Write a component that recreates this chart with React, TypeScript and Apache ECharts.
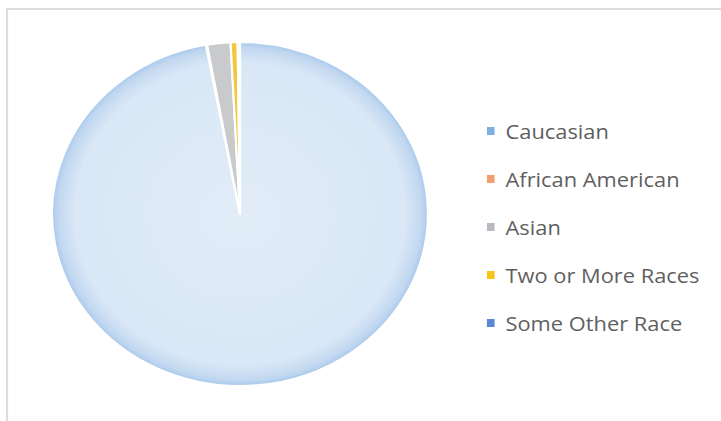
import React, { useEffect, useRef } from "react";
import * as echarts from "echarts";

const categories = ["Caucasian", "African American", "Asian", "Two or More Races", "Some Other Race"];
const shares = [97.1, 0.1, 2.0, 0.6, 0.2];
const legendColors = ["#7fb0e0", "#f0a070", "#b8babd", "#f5c51c", "#5b86d3"];

const SX = 1.093;
const W = 721 / SX;

export default function App() {
  const ref = useRef<HTMLDivElement>(null);
  useEffect(() => {
    if (!ref.current) return;
    const chart = echarts.init(ref.current, undefined, { renderer: "svg" });
    const sliceColors: any[] = [
      {
        type: "radial",
        x: 0.5,
        y: 0.5,
        r: 0.5,
        colorStops: [
          { offset: 0, color: "#e1ecf7" },
          { offset: 0.88, color: "#d9e7f6" },
          { offset: 0.965, color: "#c2d8f0" },
          { offset: 1, color: "#a9c9ec" },
        ],
      },
      "#f4b894",
      "#c9cacc",
      "#f4c73a",
      "#8eaee3",
    ];
    chart.setOption({
      animation: false,
      backgroundColor: "#ffffff",
      graphic: [
        {
          type: "rect",
          shape: { x: 6.4, y: 9, width: 800, height: 500 },
          style: { fill: "none", stroke: "#dcdcdc", lineWidth: 2 },
          silent: true,
        },
      ],
      legend: {
        orient: "vertical",
        left: 443.5,
        top: 119,
        padding: 0,
        itemWidth: 9,
        itemHeight: 10,
        itemGap: 24,
        icon: "rect",
        textStyle: {
          fontFamily: "Open Sans",
          fontSize: 20,
          lineHeight: 24,
          color: "#5f5f5f",
          padding: [0, 0, 0, 4],
        },
        data: categories.map((name, i) => ({
          name,
          itemStyle: { color: legendColors[i] },
        })),
      },
      series: [
        {
          type: "pie",
          center: [240 / SX, 214],
          radius: 172,
          startAngle: 90,
          clockwise: true,
          label: { show: false },
          labelLine: { show: false },
          itemStyle: { borderColor: "#ffffff", borderWidth: 2 },
          data: categories.map((name, i) => ({
            name,
            value: shares[i],
            itemStyle: { color: sliceColors[i] },
          })),
        },
      ],
    });
    return () => chart.dispose();
  }, []);
  return (
    <div
      style={{ position: "fixed", left: 0, top: 0, width: 721, height: 421, overflow: "hidden", background: "#fff" }}
    >
      <div
        ref={ref}
        style={{
          width: W,
          height: 421,
          transform: `scaleX(${SX})`,
          transformOrigin: "0 0",
        }}
      />
    </div>
  );
}
